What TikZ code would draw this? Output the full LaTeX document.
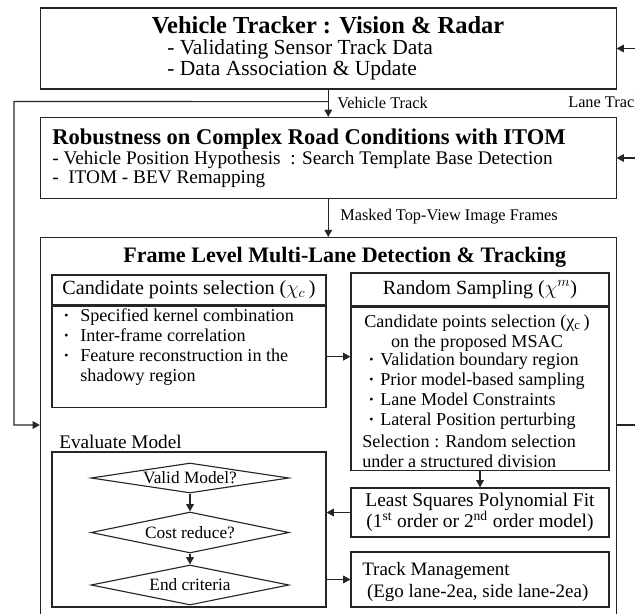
\documentclass[tikz,border=0pt]{standalone}
\usepackage{fontspec}
\setmainfont{Liberation Serif}
\usetikzlibrary{shapes.geometric, arrows.meta, positioning, calc}

\newcommand{\fsz}[2]{\fontsize{#1}{#2}\selectfont}
\newcommand{\blt}[1][4mm]{\makebox[#1][l]{\raisebox{0.12em}{\scalebox{0.65}{\textbullet}}}}

\begin{document}
\begin{tikzpicture}[
    x=0.25mm, y=-0.25mm,
    panel/.style={rectangle, draw=black!85, line width=0.8pt, inner sep=0pt, minimum width=143.9mm},
    subbox/.style={rectangle, draw=black!85, line width=0.8pt, inner sep=0pt},
    txt/.style={inner sep=0pt, align=left},
    decision/.style={diamond, draw=black!85, line width=0.8pt, inner sep=0pt, minimum width=49.5mm,
        label={[font=\fsz{12.3}{14}]center:#1}},
    arrow/.style={draw=black!85, line width=0.8pt, -{Triangle[length=1.8mm, width=1.9mm]}},
    link/.style={draw=black!85, line width=0.8pt}
]
\useasboundingbox (0,0) rectangle (635,613);
\clip (0,0) rectangle (635,613);

% Stage 1: vehicle tracker
\node[panel, minimum height=20.25mm] (tracker) at (328.25,48.5) {};
\node[txt, font=\bfseries\fsz{17.4}{20}] (trackerT) at (328,25) {Vehicle Tracker : Vision \& Radar};
\node[txt, anchor=west, font=\fsz{15.3}{14.8}] (trackerL) at (167,60)
    {- Validating Sensor Track Data\\- Data Association \& Update};

% Stage 2: ITOM
\node[panel, minimum height=20.25mm] (robust) at (328.25,158) {};
\node[txt, anchor=west, font=\bfseries\fsz{16}{18}] (robustT) at (52,139) {Robustness on Complex Road Conditions with ITOM};
\node[txt, anchor=west, font=\fsz{13.7}{13.9}] (robustL) at (52,169.5)
    {- Vehicle Position Hypothesis\ \ : Search Template Base Detection\\-\ \ ITOM - BEV Remapping};

% Stage 3: lane detection and tracking
\node[panel, minimum height=100.6mm] (lanebox) at (328.25,438.75) {};
\node[txt, anchor=west, font=\bfseries\fsz{15.7}{18}] (laneT) at (123,257) {Frame Level Multi-Lane Detection \& Tracking};

% candidate points
\node[subbox, minimum width=68.5mm, minimum height=7.5mm, font=\fsz{14.3}{16}] (candHead) at (189,290)
    {Candidate points selection ($\chi_c$\,)};
\node[subbox, minimum width=68.5mm, minimum height=25.25mm, below=0pt of candHead] (candBody) {};
\node[txt, anchor=west, font=\fsz{12.9}{14.2}] (candList) at (64,347)
    {\blt Specified kernel combination\\\blt Inter-frame correlation\\\blt Feature reconstruction in the\\\hspace*{4mm}shadowy region};

% random sampling
\node[subbox, minimum width=64.5mm, minimum height=8.25mm, font=\fsz{14.3}{16}] (randHead) at (480,289.5)
    {Random Sampling ($\chi^m$)};
\node[subbox, minimum width=64.5mm, minimum height=40.75mm, below=0pt of randHead] (randBody) {};
\node[txt, align=center, font=\fsz{12.9}{14.2}] (randIntro) at (477,333)
    {Candidate points selection (χ\textsubscript{c}\,)\\on the proposed MSAC};
\node[txt, anchor=west, font=\fsz{12.9}{14.2}] (randList) at (369,391)
    {\blt[2.75mm]Validation boundary region\\\blt[2.75mm]Prior model-based sampling\\\blt[2.75mm]Lane Model Constraints\\\blt[2.75mm]Lateral Position perturbing};
\node[txt, anchor=west, font=\fsz{12.9}{14.2}] (randSel) at (362,451)
    {Selection : Random selection\\under a structured division};

% model evaluation
\node[txt, anchor=west, font=\fsz{13.7}{16}] (evalT) at (59,442) {Evaluate Model};
\node[subbox, minimum width=68.5mm, minimum height=38.75mm] (evalbox) at (189,529.5) {};
\node[decision=Valid Model?, minimum height=7.5mm] (valid) at (190,478) {};
\node[decision=Cost reduce?, minimum height=10.25mm] (cost) at (190,532.5) {};
\node[decision=End criteria, minimum height=10mm] (endc) at (190,585) {};

% fit and track management
\node[subbox, minimum width=64.5mm, minimum height=12.25mm, align=center, font=\fsz{13.8}{15}] (lsq) at (480,512.5)
    {Least Squares Polynomial Fit\\(1\textsuperscript{st} order or 2\textsuperscript{nd} order model)};
\node[subbox, minimum width=64.5mm, minimum height=13.75mm] (trackmg) at (480,579.5) {};
\node[txt, anchor=west, font=\fsz{13.5}{16.2}] (trackmgT) at (362,582)
    {Track Management\\\ (Ego lane-2ea, side lane-2ea)};

% Arrows - main flow
\draw[arrow] (tracker.south) -- (robust.north);
\node[txt, anchor=west, font=\fsz{11.6}{13}] (vtrack) at (337,103) {Vehicle Track};
\draw[arrow] (robust.south) -- (lanebox.north);
\node[txt, anchor=west, font=\fsz{11.6}{13}] (masked) at (340,217) {Masked Top-View Image Frames};

% Arrows - vehicle track loop on the left
\coordinate (fbturn) at (14,101.5);
\coordinate (fbin) at (lanebox.west |- 0,425);
\draw[arrow] ($(tracker.south)!0.44!(robust.north)$) -- (fbturn) |- (fbin);

% Arrows - lane track back to the top
\coordinate (rgt) at (648,425);
\draw[arrow] (lanebox.east |- rgt) -- (rgt) |- (tracker.east);
\draw[arrow] (rgt |- robust.east) -- (robust.east);
\node[txt, anchor=west, font=\fsz{11.6}{13}] (ltrack) at (568,102) {Lane Track};

% Arrows - inside stage 3
\draw[arrow] (candBody.east) -- (candBody.east -| randBody.west);
\draw[arrow] (randBody.south) -- (lsq.north);
\draw[arrow] (lsq.west) -- (lsq.west -| evalbox.east);
\draw[arrow] (evalbox.east |- trackmg.west) -- (trackmg.west);
\draw[arrow] (valid.south) -- (cost.north);
\draw[arrow] (cost.south) -- (endc.north);

\end{tikzpicture}
\end{document}
